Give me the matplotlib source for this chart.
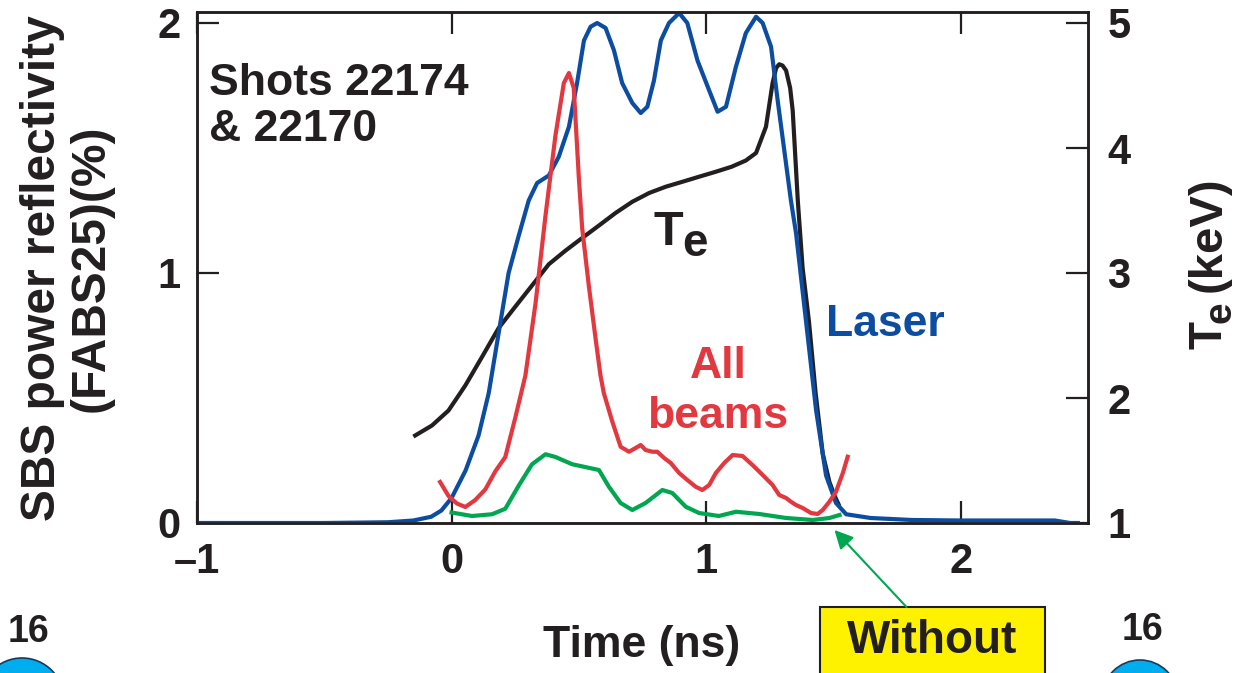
import matplotlib
matplotlib.use('Agg')
import matplotlib.pyplot as plt
from matplotlib.patches import Rectangle, Ellipse

plt.rcParams['font.family'] = ['Liberation Sans', 'DejaVu Sans']
plt.rcParams['font.weight'] = 'bold'

# laser pulse shape (left axis)
laser_t = [-1.0, -0.5, -0.25, -0.15, -0.08, -0.04, 0.0, 0.055, 0.106, 0.146, 0.185,
           0.224, 0.264, 0.303, 0.336, 0.382, 0.421, 0.461, 0.493, 0.52, 0.546, 0.572,
           0.605, 0.638, 0.67, 0.71, 0.743, 0.769, 0.795, 0.822, 0.854, 0.894, 0.926,
           0.966, 1.012, 1.045, 1.078, 1.117, 1.156, 1.196, 1.222, 1.255, 1.281, 1.307,
           1.333, 1.353, 1.392, 1.432, 1.471, 1.51, 1.55, 1.646, 1.81, 2.0, 2.37, 2.43,
           2.46]
laser = [0.0, 0.0, 0.003, 0.01, 0.025, 0.05, 0.1, 0.21, 0.35, 0.52, 0.76,
         1.0, 1.15, 1.29, 1.36, 1.39, 1.465, 1.585, 1.76, 1.93, 1.985, 2.0,
         1.98, 1.89, 1.76, 1.68, 1.64, 1.665, 1.77, 1.93, 2.0, 2.04, 2.0,
         1.85, 1.73, 1.645, 1.665, 1.825, 1.96, 2.025, 2.0, 1.905, 1.69, 1.49,
         1.29, 1.16, 0.81, 0.45, 0.19, 0.08, 0.035, 0.02, 0.012, 0.01, 0.01, 0.0,
         0.0]

# electron temperature (right axis, keV)
te_t = [-0.143, -0.077, -0.012, 0.054, 0.12, 0.185, 0.25, 0.316, 0.382, 0.448, 0.513,
        0.579, 0.644, 0.71, 0.776, 0.841, 0.907, 0.972, 1.038, 1.10, 1.156, 1.196,
        1.235, 1.261, 1.275, 1.287, 1.30, 1.314, 1.33, 1.34, 1.36, 1.379, 1.404,
        1.43, 1.458, 1.484, 1.504, 1.52]
te = [1.70, 1.78, 1.90, 2.10, 2.33, 2.56, 2.73, 2.90, 3.07, 3.18, 3.28,
      3.38, 3.48, 3.57, 3.64, 3.69, 3.73, 3.77, 3.81, 3.85, 3.90, 3.96,
      4.17, 4.52, 4.64, 4.67, 4.66, 4.62, 4.48, 4.30, 3.58, 3.04, 2.61,
      2.04, 1.555, 1.33, 1.22, 1.15]

# SBS reflectivity, all beams (%)
beams_t = [-0.045, -0.012, 0.021, 0.054, 0.093, 0.133, 0.172, 0.211, 0.25, 0.29, 0.33,
           0.369, 0.408, 0.441, 0.461, 0.48, 0.5, 0.513, 0.539, 0.566, 0.585, 0.598,
           0.63, 0.664, 0.697, 0.723, 0.743, 0.762, 0.789, 0.808, 0.835, 0.861, 0.894,
           0.926, 0.959, 0.985, 1.012, 1.038, 1.071, 1.104, 1.143, 1.182, 1.222, 1.261,
           1.287, 1.314, 1.333, 1.353, 1.379, 1.412, 1.438, 1.458, 1.484, 1.51, 1.537,
           1.556]
beams = [0.164, 0.108, 0.078, 0.064, 0.092, 0.135, 0.207, 0.264, 0.42, 0.59, 0.88,
         1.23, 1.55, 1.76, 1.80, 1.74, 1.38, 1.18, 0.95, 0.735, 0.59, 0.52,
         0.41, 0.305, 0.285, 0.30, 0.312, 0.292, 0.285, 0.285, 0.26, 0.24, 0.20,
         0.172, 0.145, 0.132, 0.152, 0.20, 0.24, 0.272, 0.268, 0.232, 0.192, 0.152,
         0.112, 0.10, 0.085, 0.072, 0.06, 0.04, 0.036, 0.052, 0.085, 0.125, 0.20,
         0.265]

# SBS reflectivity, without (%)
without_t = [0.0, 0.08, 0.159, 0.211, 0.264, 0.316, 0.369, 0.408, 0.474, 0.579, 0.618,
             0.664, 0.71, 0.762, 0.828, 0.867, 0.92, 0.972, 1.05, 1.117, 1.209, 1.314,
             1.419, 1.484, 1.524]
without = [0.042, 0.028, 0.035, 0.057, 0.15, 0.235, 0.275, 0.264, 0.235, 0.212, 0.145,
           0.08, 0.052, 0.08, 0.132, 0.12, 0.065, 0.04, 0.028, 0.045, 0.036, 0.02,
           0.012, 0.02, 0.032]

x_ticks = [-1, 0, 1, 2]
x_labels = ['\u20131', '0', '1', '2']
left_ticks = [0, 1, 2]
right_ticks = [1, 2, 3, 4, 5]

BLUE = '#0c4da2'
RED = '#e2383f'
GREEN = '#00a650'
BLACK = '#231f20'

W, H = 1237, 673
fig = plt.figure(figsize=(W / 100, H / 100), dpi=100)
ax = fig.add_axes([197 / W, 1 - 523 / H, (1088 - 197) / W, (523 - 12) / H])
ax2 = ax.twinx()
ax.set_zorder(ax2.get_zorder() + 1)
ax.patch.set_visible(False)


def fx(px):
    return px / W


def fy(py):
    return 1 - py / H


ax2.plot(te_t, te, color=BLACK, lw=3)
ax.plot(laser_t, laser, color=BLUE, lw=3)
ax.plot(beams_t, beams, color=RED, lw=3)
ax.plot(without_t, without, color=GREEN, lw=3)

ax.set_xlim(-1, 2.5)
ax.set_ylim(0, 2.044)
ax2.set_ylim(1, 5.088)
ax.set_xticks(x_ticks)
ax.set_xticklabels(x_labels)
ax.set_yticks(left_ticks)
ax2.set_yticks(right_ticks)

for a in (ax, ax2):
    for s in a.spines.values():
        s.set_linewidth(1.8)
        s.set_color(BLACK)
ax.tick_params(axis='x', direction='in', length=16, width=1.6, top=True,
               labelsize=30, pad=14, colors=BLACK)
ax.tick_params(axis='y', direction='in', length=16, width=1.6,
               labelsize=30, pad=12, colors=BLACK)
ax2.tick_params(axis='y', direction='in', length=16, width=1.6,
                labelsize=30, pad=14, colors=BLACK)

# left axis label
fig.text(fx(67), fy(268), 'SBS power reflectivity\n(FABS25)(%)', rotation=90,
         ha='center', va='center', multialignment='center', fontsize=34.5,
         linespacing=1.1, color=BLACK)

# right axis label: T, subscript e, (keV)
rot = dict(rotation=90, rotation_mode='anchor', ha='left', va='baseline',
           color=BLACK)
fig.text(fx(1221), fy(349), 'T', fontsize=33, **rot)
fig.text(fx(1231), fy(323), 'e', fontsize=28, **rot)
fig.text(fx(1221), fy(292), '(keV)', fontsize=34, **rot)

fig.text(fx(642), fy(646), 'Time (ns)', ha='center', va='center', fontsize=32,
         color=BLACK)

# in-plot annotations
fig.text(fx(209), fy(95), 'Shots 22174', ha='left', va='baseline', fontsize=32,
         color=BLACK)
fig.text(fx(209), fy(141), '& 22170', ha='left', va='baseline', fontsize=32,
         color=BLACK)
fig.text(fx(654), fy(245), 'T', ha='left', va='baseline', fontsize=35, color=BLACK)
fig.text(fx(682), fy(256), 'e', ha='left', va='baseline', fontsize=33, color=BLACK)
fig.text(fx(826), fy(336), 'Laser', ha='left', va='baseline', fontsize=32,
         color=BLUE)
fig.text(fx(718), fy(378), 'All', ha='center', va='baseline', fontsize=32,
         color=RED)
fig.text(fx(718), fy(428), 'beams', ha='center', va='baseline', fontsize=32,
         color=RED)

# "Without" call-out
fig.add_artist(Rectangle((fx(820), fy(690)), (1045 - 820) / W, (690 - 607) / H,
                         transform=fig.transFigure, facecolor='#fff200',
                         edgecolor=BLACK, lw=1.5))
fig.text(fx(932), fy(641), 'Without', ha='center', va='center', fontsize=33,
         color=BLACK)
ax.annotate('', xy=(1.504, -0.028), xytext=(1.787, -0.336),
            textcoords='data', annotation_clip=False,
            arrowprops=dict(arrowstyle='-|>', color=GREEN, lw=1.5,
                            mutation_scale=28, shrinkA=0, shrinkB=0))

# slide page markers
fig.text(fx(29), fy(632), '16', ha='center', va='center', fontsize=27, color=BLACK)
fig.text(fx(1142), fy(630), '16', ha='center', va='center', fontsize=27, color=BLACK)
fig.add_artist(Ellipse((fx(22), fy(700)), 2 * 42 / W, 2 * 42 / H,
                       transform=fig.transFigure, facecolor='#00aeef',
                       edgecolor='#1a3a5c', lw=1.2))
fig.add_artist(Ellipse((fx(1140), fy(698)), 2 * 38 / W, 2 * 38 / H,
                       transform=fig.transFigure, facecolor='#00aeef',
                       edgecolor='#1a3a5c', lw=1.2))

fig.savefig('out.png', dpi=100)
